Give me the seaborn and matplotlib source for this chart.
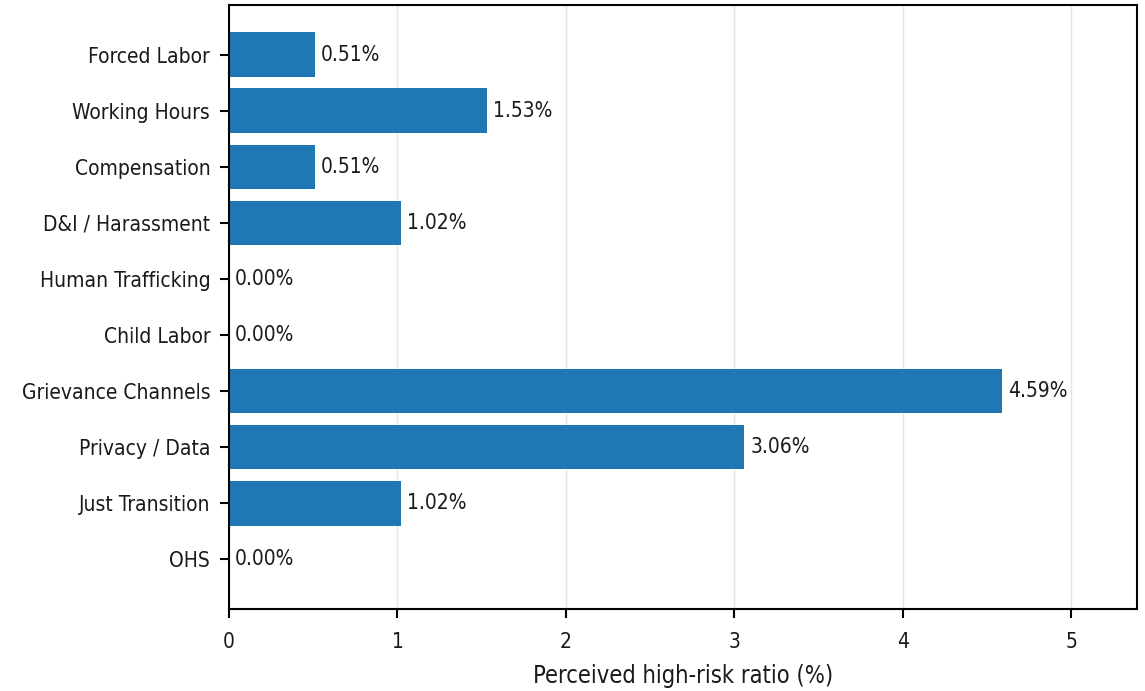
import matplotlib
matplotlib.use("Agg")
import matplotlib.pyplot as plt
import seaborn as sns
import pandas as pd

categories = ["Forced Labor", "Working Hours", "Compensation", "D&I / Harassment",
              "Human Trafficking", "Child Labor", "Grievance Channels",
              "Privacy / Data", "Just Transition", "OHS"]
values = [0.51, 1.53, 0.51, 1.02, 0.00, 0.00, 4.59, 3.06, 1.02, 0.00]
xlabel = "Perceived high-risk ratio (%)"

sns.set_style("white")
plt.rcParams['font.family'] = ['DejaVu Sans']
plt.rcParams['font.stretch'] = 'condensed'

df = pd.DataFrame({"category": categories, "value": values})

fig = plt.figure(figsize=(11.45, 6.91), dpi=100)
ax = fig.add_axes([229/1145, 1 - 609/691, (1137-229)/1145, (609-5)/691])
sns.barplot(data=df, y="category", x="value", orient="h", color="#1f77b4",
            saturation=1, width=0.8, ax=ax, linewidth=0, edgecolor="none", zorder=2)
n = len(categories)
ax.set_ylim(n - 1 + 0.89, -0.89)
ax.set_xlim(0, max(values) + 0.8)
ax.grid(axis="x", color="#e5e5e5", linewidth=1, zorder=0)
ax.set_axisbelow(True)
ax.set_ylabel("")
ax.set_xlabel(xlabel, fontsize=17, labelpad=9, color="#1a1a1a")
ax.tick_params(axis="y", labelsize=15, length=6.5, width=1.5, left=True, pad=7, colors="#1a1a1a")
ax.tick_params(axis="x", labelsize=15, length=6.5, width=1.5, bottom=True, pad=10, colors="#1a1a1a")
ax.tick_params(axis="both", color="black")
for s in ax.spines.values():
    s.set_linewidth(1.5)
    s.set_color("black")
    s.set_zorder(5)
for i, v in enumerate(values):
    ax.text(v + 0.035, i, f"{v:.2f}%", va="center", ha="left", fontsize=15, color="#1a1a1a")
fig.savefig("out.png", dpi=100)
